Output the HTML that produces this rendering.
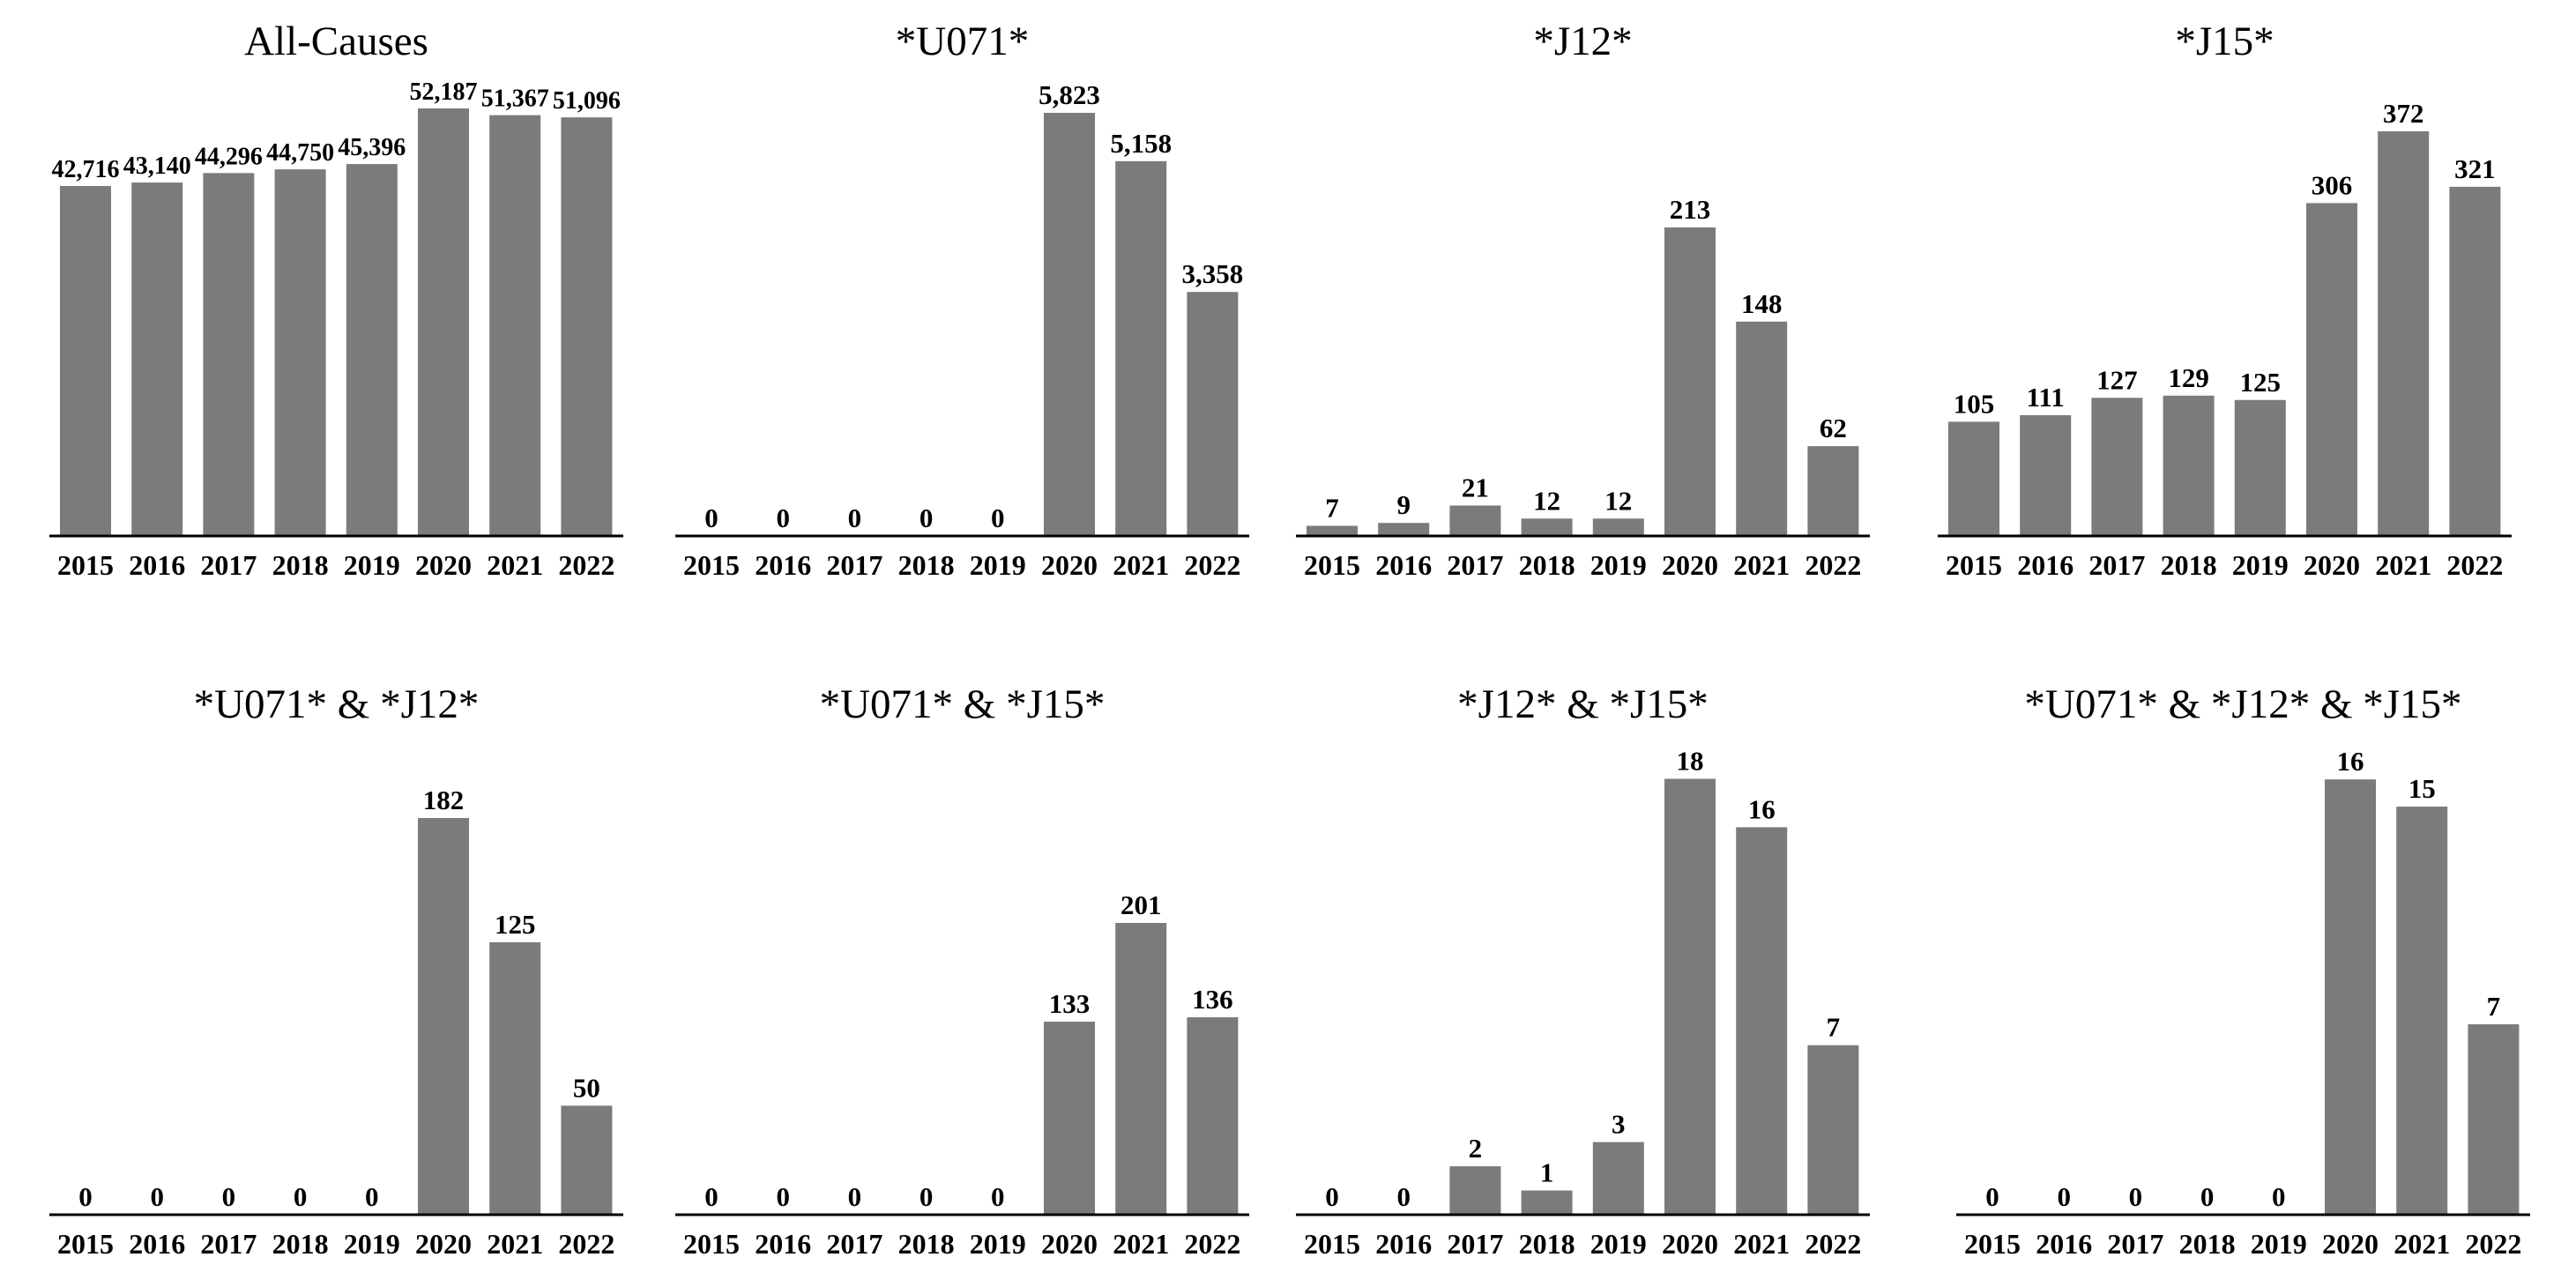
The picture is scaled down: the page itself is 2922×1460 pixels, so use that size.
<!DOCTYPE html>
<html><head><meta charset="utf-8"><style>
html,body{margin:0;padding:0;background:#fff;}
svg{display:block;font-family:"Liberation Serif","Times New Roman",serif;}
</style></head><body>
<svg id="chart" width="2922" height="1460" viewBox="0 0 2922 1460" xmlns="http://www.w3.org/2000/svg"></svg>
<script>
const years = ["2015","2016","2017","2018","2019","2020","2021","2022"];
const titles = ["All-Causes","*U071*","*J12*","*J15*","*U071* & *J12*","*U071* & *J15*","*J12* & *J15*","*U071* & *J12* & *J15*"];
const allCauses = [42716,43140,44296,44750,45396,52187,51367,51096];
const u071 = [0,0,0,0,0,5823,5158,3358];
const j12 = [7,9,21,12,12,213,148,62];
const j15 = [105,111,127,129,125,306,372,321];
const u071J12 = [0,0,0,0,0,182,125,50];
const u071J15 = [0,0,0,0,0,133,201,136];
const j12J15 = [0,0,2,1,3,18,16,7];
const u071J12J15 = [0,0,0,0,0,16,15,7];
const yMaxes = [53801,6066,304.3,405.2,202.2,303.6,18.2,16.2];
const series = [allCauses,u071,j12,j15,u071J12,u071J15,j12J15,u071J12J15];

const NS="http://www.w3.org/2000/svg";
const svg=document.getElementById('chart');
const x0s=[56,766,1470,2198,56,766,1470,2219];
const axisYs=[608,608,608,608,1378,1378,1378,1378];
const titleYs=[62,62,62,62,814,814,814,814];
const slugs=["all-causes","u071","j12","j15","u071-j12","u071-j15","j12-j15","u071-j12-j15"];
const PLOT_H=500, AXIS_W=651, PITCH=81.2, BAR_W=58, PAD=12;
function mk(tag,attrs,parent){const e=document.createElementNS(NS,tag);for(const k in attrs)e.setAttribute(k,attrs[k]);parent.appendChild(e);return e;}
function fmt(v){return v.toLocaleString('en-US');}

series.forEach((vals,p)=>{
  const g=mk('g',{},svg);
  
  
  const x0=x0s[p], ay=axisYs[p], yMax=yMaxes[p];
  const yScale=v=>ay - v/yMax*PLOT_H;
  const xBand=i=>x0+PAD+i*PITCH;
  const t=mk('text',{x:x0+AXIS_W/2,y:titleYs[p],'text-anchor':'middle','font-size':47,fill:'#000'},g);
  t.textContent=titles[p];
  
  
  const valSize = p===0 ? 28 : 31;
  vals.forEach((v,i)=>{
    const top=yScale(v);
    if(v>0){
      const r=mk('rect',{x:xBand(i),y:top,width:BAR_W,height:ay-top,fill:'#7b7b7b'},g);
      
      
    }
    const lt=mk('text',{x:xBand(i)+BAR_W/2,y:top-10,'text-anchor':'middle','font-size':valSize,'font-weight':'bold',fill:'#000'},g);
    lt.textContent=fmt(v);
    
    
    const yl=mk('text',{x:xBand(i)+BAR_W/2,y:ay+44,'text-anchor':'middle','font-size':32,'font-weight':'bold',fill:'#000'},g);
    yl.textContent=years[i];
    
    
  });
  const ax=mk('line',{x1:x0,x2:x0+AXIS_W,y1:ay,y2:ay,stroke:'#000','stroke-width':3},g);
  
  
});
</script>
</body></html>
